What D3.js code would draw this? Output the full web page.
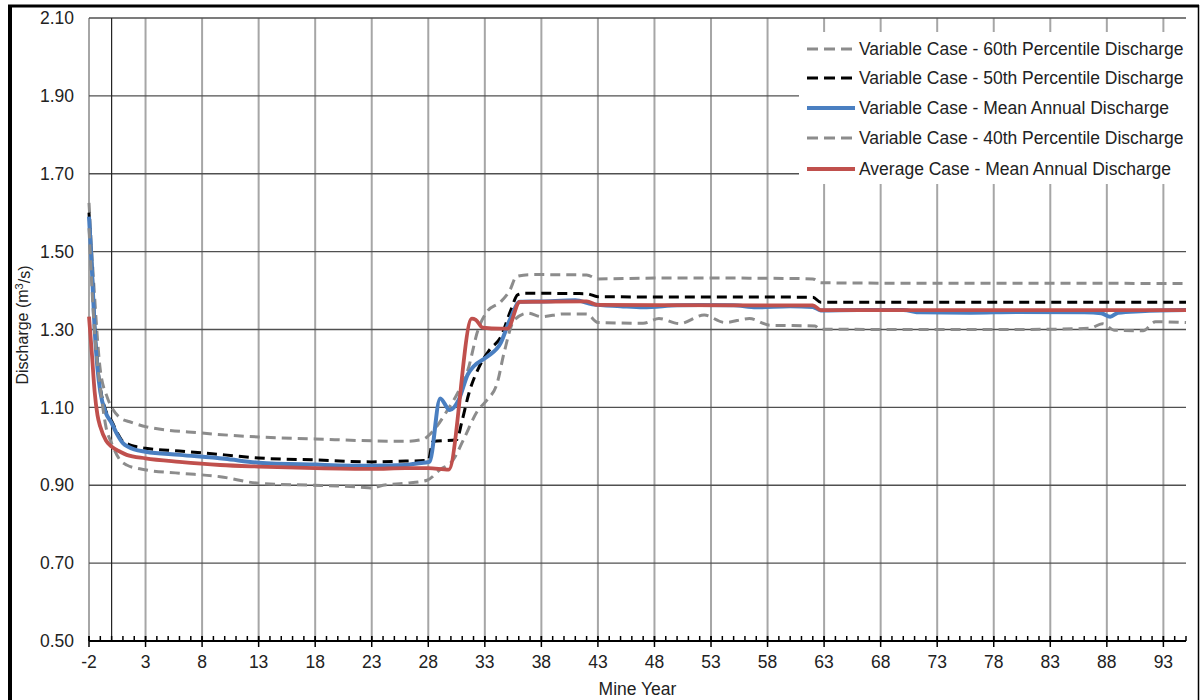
<!DOCTYPE html>
<html>
<head>
<meta charset="utf-8">
<script src="https://cdn.jsdelivr.net/npm/d3@7"></script>
<style>
	html, body { margin: 0; padding: 0; background: #fff; overflow: hidden; }
	svg { display: block; }
	svg text { font-family: "Liberation Sans", Arial, sans-serif; fill: #222; }
</style>
</head>
<body>
<div id="chart"></div>
<script>

// Series data, [mine year, discharge m3/s]
const p60 = [[-2, 1.625], [-1.6, 1.427], [-1, 1.196], [-0.4, 1.127], [0.15, 1.093], [0.8, 1.072], [1.6, 1.063],
	[3.1, 1.05], [8, 1.034], [13, 1.024], [18, 1.019], [23, 1.014], [26, 1.013], [27.5, 1.018], [28.5, 1.042],
	[29.7, 1.093], [30.6, 1.137], [31.5, 1.196], [32.4, 1.299], [33.2, 1.346], [34.4, 1.371], [35.2, 1.40],
	[35.8, 1.436], [37, 1.441], [42, 1.44], [43, 1.43], [48, 1.432], [55, 1.432], [60, 1.431], [62, 1.43],
	[62.7, 1.42], [70, 1.419], [80, 1.419], [95, 1.418]];

const p50 = [[-2, 1.60], [-1.75, 1.47], [-1.5, 1.31], [-1.25, 1.21], [-1, 1.15], [-0.5, 1.09], [0, 1.065],
	[0.5, 1.035], [1, 1.012], [1.5, 1.005], [2, 1.0], [3, 0.995], [6, 0.988], [10, 0.978], [13, 0.97],
	[18, 0.965], [23, 0.96], [26, 0.962], [28, 0.964], [28.4, 1.012], [30.5, 1.017], [31, 1.067], [31.6, 1.137],
	[32.5, 1.204], [33.4, 1.247], [34.4, 1.28], [35.3, 1.35], [35.9, 1.389], [36.5, 1.393], [42, 1.392],
	[43, 1.384], [62, 1.383], [62.7, 1.37], [95, 1.37]];

const varMean = [[-2, 1.59], [-1.75, 1.46], [-1.5, 1.30], [-1.25, 1.20], [-1, 1.14], [-0.5, 1.085], [0, 1.06],
	[0.5, 1.03], [1, 1.008], [1.5, 0.998], [2, 0.992], [3, 0.986], [6, 0.978], [10, 0.968], [13, 0.958],
	[18, 0.953], [23, 0.95], [26, 0.952], [27, 0.956], [28.1, 0.96], [29.05, 1.123], [29.9, 1.093], [30.7, 1.12],
	[31.5, 1.185], [32, 1.205], [33.2, 1.23], [34.4, 1.265], [35.2, 1.324], [36.1, 1.371], [38, 1.372],
	[41, 1.375], [42.5, 1.365], [45, 1.36], [47, 1.357], [50, 1.362], [52, 1.363], [55, 1.362], [57, 1.357],
	[60, 1.36], [62, 1.358], [62.7, 1.349], [66, 1.35], [70, 1.35], [71.5, 1.344], [76, 1.343], [80, 1.345],
	[86, 1.344], [87.5, 1.342], [88.3, 1.333], [89, 1.343], [91, 1.347], [95, 1.35]];

const p40 = [[-2, 1.56], [-1.5, 1.29], [-1, 1.15], [-0.5, 1.05], [0, 1.008], [0.74, 0.965], [1.33, 0.952],
	[3.1, 0.939], [6, 0.931], [9.6, 0.922], [13, 0.905], [17.8, 0.90], [20, 0.898], [22, 0.895], [23, 0.893],
	[24, 0.90], [26, 0.905], [27.9, 0.913], [29, 0.939], [30.2, 0.965], [31.1, 1.016], [32.4, 1.093],
	[33.2, 1.119], [34.1, 1.163], [34.7, 1.24], [35.6, 1.324], [36.8, 1.342], [38, 1.333], [40, 1.34],
	[42, 1.34], [43, 1.318], [47, 1.316], [48.4, 1.328], [50.2, 1.315], [52.4, 1.337], [54.2, 1.318],
	[56.4, 1.328], [58.2, 1.311], [62.2, 1.309], [62.6, 1.301], [70, 1.30], [80, 1.30], [86.5, 1.303],
	[87.6, 1.315], [88.7, 1.298], [91.2, 1.297], [92.3, 1.32], [95, 1.318]];

const avgMean = [[-2, 1.333], [-1.75, 1.24], [-1.5, 1.14], [-1.25, 1.08], [-1, 1.05], [-0.5, 1.015], [0, 0.999],
	[0.75, 0.986], [1.33, 0.978], [3, 0.969], [6, 0.96], [9.6, 0.952], [13, 0.948], [18, 0.944], [23, 0.942],
	[26, 0.944], [28, 0.944], [29.8, 0.94], [31.85, 1.328], [32.2, 1.325], [32.8, 1.305], [34.4, 1.302],
	[35, 1.302], [36.1, 1.371], [42, 1.372], [43, 1.363], [62, 1.362], [62.7, 1.35], [95, 1.35]];

const seriesNames = [
	"Variable Case - 60th Percentile Discharge",
	"Variable Case - 50th Percentile Discharge",
	"Variable Case - Mean Annual Discharge",
	"Variable Case - 40th Percentile Discharge",
	"Average Case - Mean Annual Discharge"
];
const xTicks = d3.range(-2, 94, 5);
const yTicks = d3.range(0.5, 2.11, 0.2);

// General Variables
const width = 1203, height = 700;
const margin = { top: 18, right: 17, bottom: 59, left: 89 };
const innerWidth = width - margin.left - margin.right;
const innerHeight = height - margin.top - margin.bottom;
const fontSize = "17.5px";

let svg = d3.select("#chart").append("svg")
	.attr("width", width)
	.attr("height", height);

// outer frame
svg.append("line").attr("x1", 10).attr("x2", 10).attr("y1", 5).attr("y2", 700)
	.attr("stroke", "#000").attr("stroke-width", 4);
svg.append("line").attr("x1", 8).attr("x2", 1199).attr("y1", 6).attr("y2", 6)
	.attr("stroke", "#000").attr("stroke-width", 3);
svg.append("line").attr("x1", 1198.5).attr("x2", 1198.5).attr("y1", 5).attr("y2", 700)
	.attr("stroke", "#000").attr("stroke-width", 1.5);

const g = svg.append("g")
	.attr("transform", "translate(" + margin.left + "," + margin.top + ")");

// scales
let x = d3.scaleLinear().domain([-2, 95]).range([0, innerWidth]);
let y = d3.scaleLinear().domain([0.5, 2.1]).range([innerHeight, 0]);

// vertical gridlines
g.append("g")
	.selectAll("line")
	.data(xTicks).enter()
	.append("line")
	.attr("x1", d => x(d)).attr("x2", d => x(d))
	.attr("y1", 0).attr("y2", innerHeight)
	.attr("stroke", "#a6a6a6")
	.attr("stroke-width", 2);

// horizontal gridlines
g.append("g")
	.selectAll("line")
	.data(yTicks).enter()
	.append("line")
	.attr("x1", 0).attr("x2", innerWidth)
	.attr("y1", d => y(d)).attr("y2", d => y(d))
	.attr("stroke", "#505050")
	.attr("stroke-width", 1.4);

// value axis crossing at year 0
g.append("line")
	.attr("x1", x(0)).attr("x2", x(0))
	.attr("y1", 0).attr("y2", innerHeight)
	.attr("stroke", "#222")
	.attr("stroke-width", 1.2);

// Y labels
g.append("g")
	.selectAll("text")
	.data(yTicks).enter()
	.append("text")
	.attr("x", -15)
	.attr("y", d => y(d))
	.attr("dy", "0.35em")
	.attr("text-anchor", "end")
	.style("font-size", fontSize)
	.text(d => d3.format(".2f")(d));

// X Axis line + ticks
const axisG = g.append("g").attr("transform", "translate(0," + innerHeight + ")");
axisG.append("line")
	.attr("x1", 0).attr("x2", innerWidth)
	.attr("stroke", "#000").attr("stroke-width", 2.2);
axisG.selectAll(".minor")
	.data(d3.range(-2, 96)).enter()
	.append("line")
	.attr("class", "minor")
	.attr("x1", d => x(d)).attr("x2", d => x(d))
	.attr("y1", -5).attr("y2", 0)
	.attr("stroke", "#000").attr("stroke-width", 1.5);
axisG.selectAll(".major")
	.data(xTicks).enter()
	.append("line")
	.attr("class", "major")
	.attr("x1", d => x(d)).attr("x2", d => x(d))
	.attr("y1", -5).attr("y2", 6)
	.attr("stroke", "#000").attr("stroke-width", 1.5);
axisG.selectAll("text")
	.data(xTicks).enter()
	.append("text")
	.attr("x", d => x(d))
	.attr("y", 27)
	.attr("text-anchor", "middle")
	.style("font-size", fontSize)
	.text(d => d);

// axis titles
g.append("text")
	.attr("x", innerWidth / 2)
	.attr("y", innerHeight + 54)
	.attr("text-anchor", "middle")
	.style("font-size", fontSize)
	.text("Mine Year");

let yTitle = g.append("text")
	.attr("transform", "translate(" + (28 - margin.left) + "," + (325 - margin.top) + ") rotate(-90)")
	.attr("text-anchor", "middle")
	.style("font-size", "16px");
yTitle.append("tspan").text("Discharge (m");
yTitle.append("tspan").attr("dy", "-0.45em").style("font-size", "11px").text("3");
yTitle.append("tspan").attr("dy", "0.45em").text("/s)");

// line styles per series
const styles = [
	{ data: p60, color: "#8c8c8c", w: 3, dash: "10,6" },
	{ data: p50, color: "#000000", w: 3, dash: "10,6" },
	{ data: varMean, color: "#4a7fc1", w: 4, dash: null },
	{ data: p40, color: "#8c8c8c", w: 3, dash: "10,6" },
	{ data: avgMean, color: "#c0504d", w: 3.8, dash: null }
];

let line = d3.line()
	.x(d => x(d[0]))
	.y(d => y(d[1]))
	.curve(d3.curveMonotoneX);

g.append("g")
	.selectAll("path")
	.data(styles).enter()
	.append("path")
	.attr("d", d => line(d.data))
	.attr("fill", "none")
	.attr("stroke", d => d.color)
	.attr("stroke-width", d => d.w)
	.attr("stroke-dasharray", d => d.dash)
	.attr("stroke-linejoin", "round");

// Legend
const legend = svg.append("g");
legend.append("rect")
	.attr("x", 799).attr("y", 32)
	.attr("width", 387).attr("height", 152)
	.attr("fill", "#fff");
let rows = legend.selectAll(".row")
	.data(styles).enter()
	.append("g")
	.attr("class", "row")
	.attr("transform", (d, i) => "translate(0," + [49, 78, 108, 138, 169][i] + ")");
rows.append("line")
	.attr("x1", 807).attr("x2", 855)
	.attr("stroke", d => d.color)
	.attr("stroke-width", d => d.w)
	.attr("stroke-dasharray", d => d.dash ? "11,6" : null);
rows.append("text")
	.attr("x", 859)
	.attr("dy", "0.35em")
	.style("font-size", fontSize)
	.text((d, i) => seriesNames[i]);

</script>
</body>
</html>
